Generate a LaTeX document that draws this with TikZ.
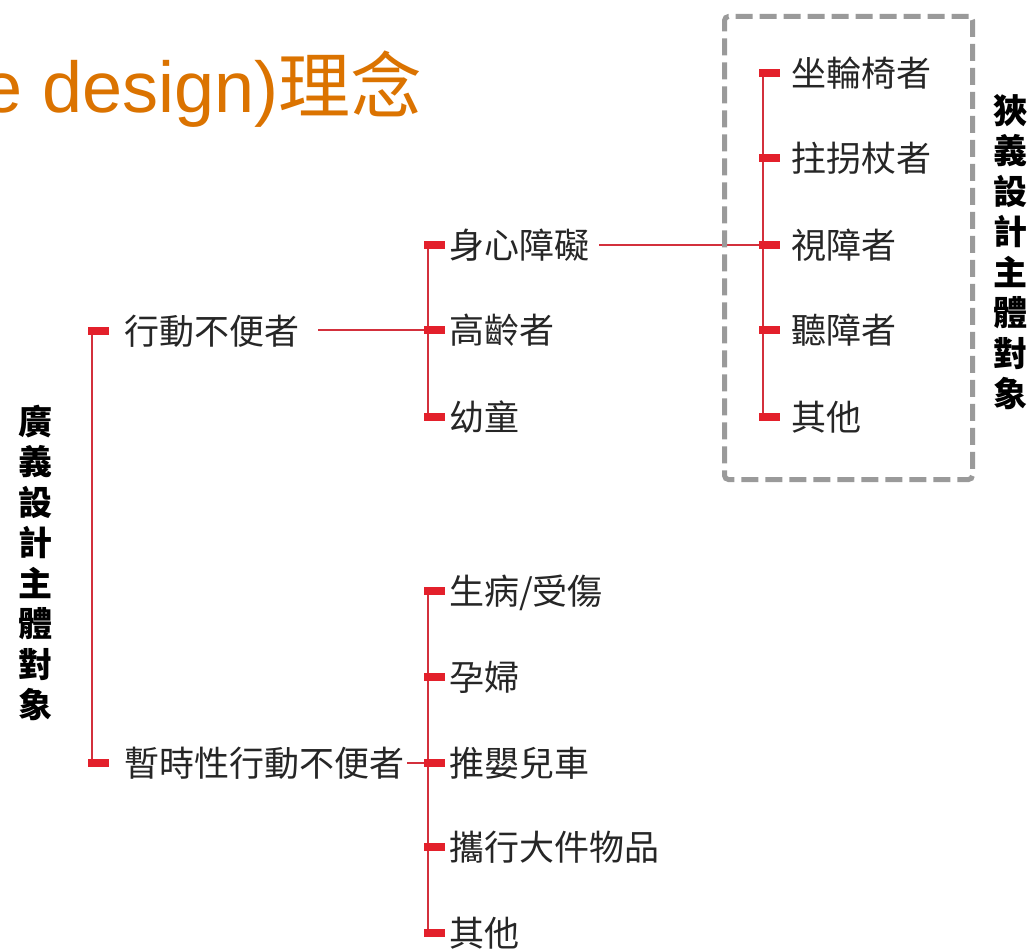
\documentclass[tikz,border=0pt]{standalone}
\usepackage{fontspec}
\setmainfont{Liberation Sans}
\newfontfamily\cjk{Noto Sans CJK TC}
\usetikzlibrary{backgrounds}
\definecolor{mkred}{HTML}{E3202B}
\definecolor{lnred}{HTML}{D3303C}
\definecolor{lbl}{HTML}{262626}
\definecolor{boxgray}{HTML}{9A9A9A}
\definecolor{titleor}{HTML}{DB7300}
\begin{document}
\begin{tikzpicture}[x=1pt,y=-1pt,
  mk/.style={fill=mkred,draw=none,minimum width=21pt,minimum height=8pt,inner sep=0pt,anchor=west},
  lbl/.style={anchor=base west,inner sep=0pt,text=lbl,font=\cjk\fontsize{35}{40}\selectfont},
  vtext/.style={align=center,inner sep=0pt,text=black,font=\cjk\bfseries\fontsize{34}{40.5}\selectfont},
  vline/.style={draw=lnred,line width=2.6pt},
  hline/.style={draw=lnred,line width=2pt},
  dbox/.style={draw=boxgray,line width=5pt,dash pattern=on 17pt off 7pt,rounded corners=4pt}]
\useasboundingbox (0,0) rectangle (1035,950);
\clip (0,0) rectangle (1035,950);

% title
\node[anchor=base west,inner sep=0pt,text=titleor,font=\fontsize{72}{80}\selectfont] (title) at (-18,112) {e design)\cjk 理念};

% dashed box
\node[dbox,minimum width=248pt,minimum height=463pt,anchor=north west] (box) at (722,14) {};

% vertical texts
\node[vtext] (vl) at (35,563) {廣\\義\\設\\計\\主\\體\\對\\象};
\node[vtext] (vr) at (1010,252) {狹\\義\\設\\計\\主\\體\\對\\象};

% tree 1
\node[mk] (a1) at (88,331) {};
\node[mk] (a2) at (88,763) {};
\node[lbl] (la1) at (124,344) {行動不便者};
\node[lbl] (la2) at (124,776) {暫時性行動不便者};

% tree 2 (upper)
\node[mk] (b1) at (424,245) {};
\node[mk] (b2) at (424,330) {};
\node[mk] (b3) at (424,417) {};
\node[lbl] (lb1) at (449,258) {身心障礙};
\node[lbl] (lb2) at (449,343) {高齡者};
\node[lbl] (lb3) at (449,430) {幼童};

% tree 3 (in box)
\node[mk] (c1) at (759,73) {};
\node[mk] (c2) at (759,158) {};
\node[mk] (c3) at (759,245) {};
\node[mk] (c4) at (759,330) {};
\node[mk] (c5) at (759,417) {};
\node[lbl] (lc1) at (791,86) {坐輪椅者};
\node[lbl] (lc2) at (791,171) {拄拐杖者};
\node[lbl] (lc3) at (791,258) {視障者};
\node[lbl] (lc4) at (791,343) {聽障者};
\node[lbl] (lc5) at (791,430) {其他};

% tree 4 (lower)
\node[mk] (d1) at (424,591) {};
\node[mk] (d2) at (424,677) {};
\node[mk] (d3) at (424,763) {};
\node[mk] (d4) at (424,847) {};
\node[mk] (d5) at (424,933) {};
\node[lbl] (ld1) at (449,604) {生病/受傷};
\node[lbl] (ld2) at (449,690) {孕婦};
\node[lbl] (ld3) at (449,776) {推嬰兒車};
\node[lbl] (ld4) at (449,860) {攜行大件物品};
\node[lbl] (ld5) at (449,946) {其他};

\begin{scope}[on background layer]
  \fill[white] (0,0) rectangle (1035,950);
  \draw[vline] ([xshift=4pt]a1.west) -- ([xshift=4pt]a2.west);
  \draw[vline] ([xshift=4pt]b1.west) -- ([xshift=4pt]b3.west);
  \draw[vline] ([xshift=4pt]c1.west) -- ([xshift=4pt]c5.west);
  \draw[vline] ([xshift=4pt]d1.west) -- ([xshift=4pt]d5.west);
  \draw[hline] ([xshift=19pt]la1.east |- b2.west) -- ([xshift=4pt]b2.west);
  \draw[hline] ([xshift=10pt]lb1.east |- c3.west) -- ([xshift=4pt]c3.west);
  \draw[hline] ([xshift=3pt]la2.east |- d3.west) -- ([xshift=4pt]d3.west);
\end{scope}
\end{tikzpicture}
\end{document}
